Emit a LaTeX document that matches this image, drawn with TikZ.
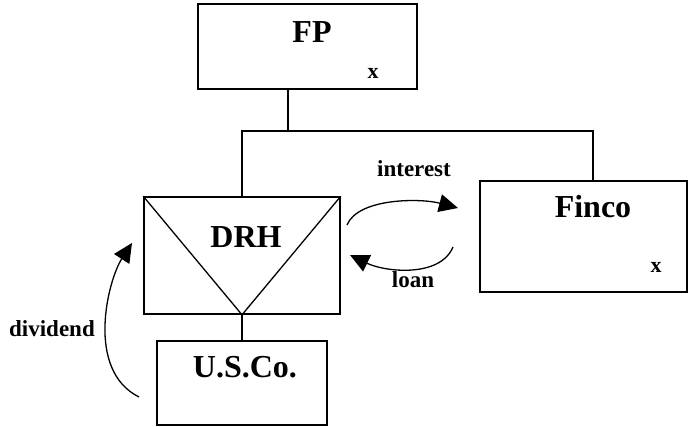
\documentclass[tikz,border=0pt]{standalone}
\usepackage{fontspec}
\setmainfont{Liberation Serif}
\usetikzlibrary{arrows.meta}
\tikzset{
  box/.style={draw, line width=1.6pt, inner sep=0pt, fill=white},
  link/.style={draw, line width=1.3pt},
  flow/.style={draw, line width=1.3pt, -{Triangle[length=19pt,width=18pt]}},
  big/.style={anchor=base, inner sep=0pt, font=\fontsize{32}{36}\selectfont\bfseries},
  small/.style={anchor=base, inner sep=0pt, font=\fontsize{23}{26}\selectfont\bfseries},
  mark x/.style={anchor=base, inner sep=0pt, font=\fontsize{22}{24}\selectfont\bfseries},
}
\begin{document}
\begin{tikzpicture}[x=1pt,y=-1pt]
\useasboundingbox (0,0) rectangle (689,427);
% connectors behind boxes
\coordinate (bus) at (288,131);
\coordinate (fincotop) at (593,181);
% boxes
\node[box, minimum width=219pt, minimum height=85pt] (fp) at (307.5,46.5) {};
\node[box, minimum width=196pt, minimum height=117pt] (drh) at (242,255.5) {};
\node[box, minimum width=207pt, minimum height=111pt] (finco) at (583.5,236.5) {};
\node[box, minimum width=170pt, minimum height=84pt] (usco) at (242,383) {};
% tree lines
\draw[link] (bus |- fp.south) -- (bus);
\draw[link] (drh.north) -- (drh.north |- bus) -- (fincotop |- bus) -- (fincotop);
\draw[link] (drh.south) -- (usco.north);
% DRH triangle
\draw[line width=1.3pt] (drh.north west) -- (drh.south) -- (drh.north east);
% texts
\node[big] (tfp) at (312,43) {FP};
\node[mark x] (xfp) at (373,79) {x};
\node[big] (tdrh) at (246,248) {DRH};
\node[big] (tfinco) at (593,218) {Finco};
\node[mark x] (xfinco) at (656,273) {x};
\node[big] (tusco) at (245,378) {U.S.Co.};
\node[small] (tint) at (414,177) {interest};
\node[small] (tloan) at (413,288) {loan};
\node[small] (tdiv) at (52,337) {dividend};
% flow arrows
\coordinate (i0) at (347,225);
\coordinate (i1) at (458,208);
\coordinate (l0) at (453,247);
\coordinate (l1) at (350,255);
\coordinate (d0) at (139,397);
\coordinate (d1) at (132,243);
\draw[flow] (i0) .. controls (358,198) and (420,198) .. (i1);
\draw[flow] (l0) .. controls (440,278) and (385,272) .. (l1);
\draw[flow] (d0) .. controls (85,370) and (108,280) .. (d1);
\end{tikzpicture}
\end{document}
